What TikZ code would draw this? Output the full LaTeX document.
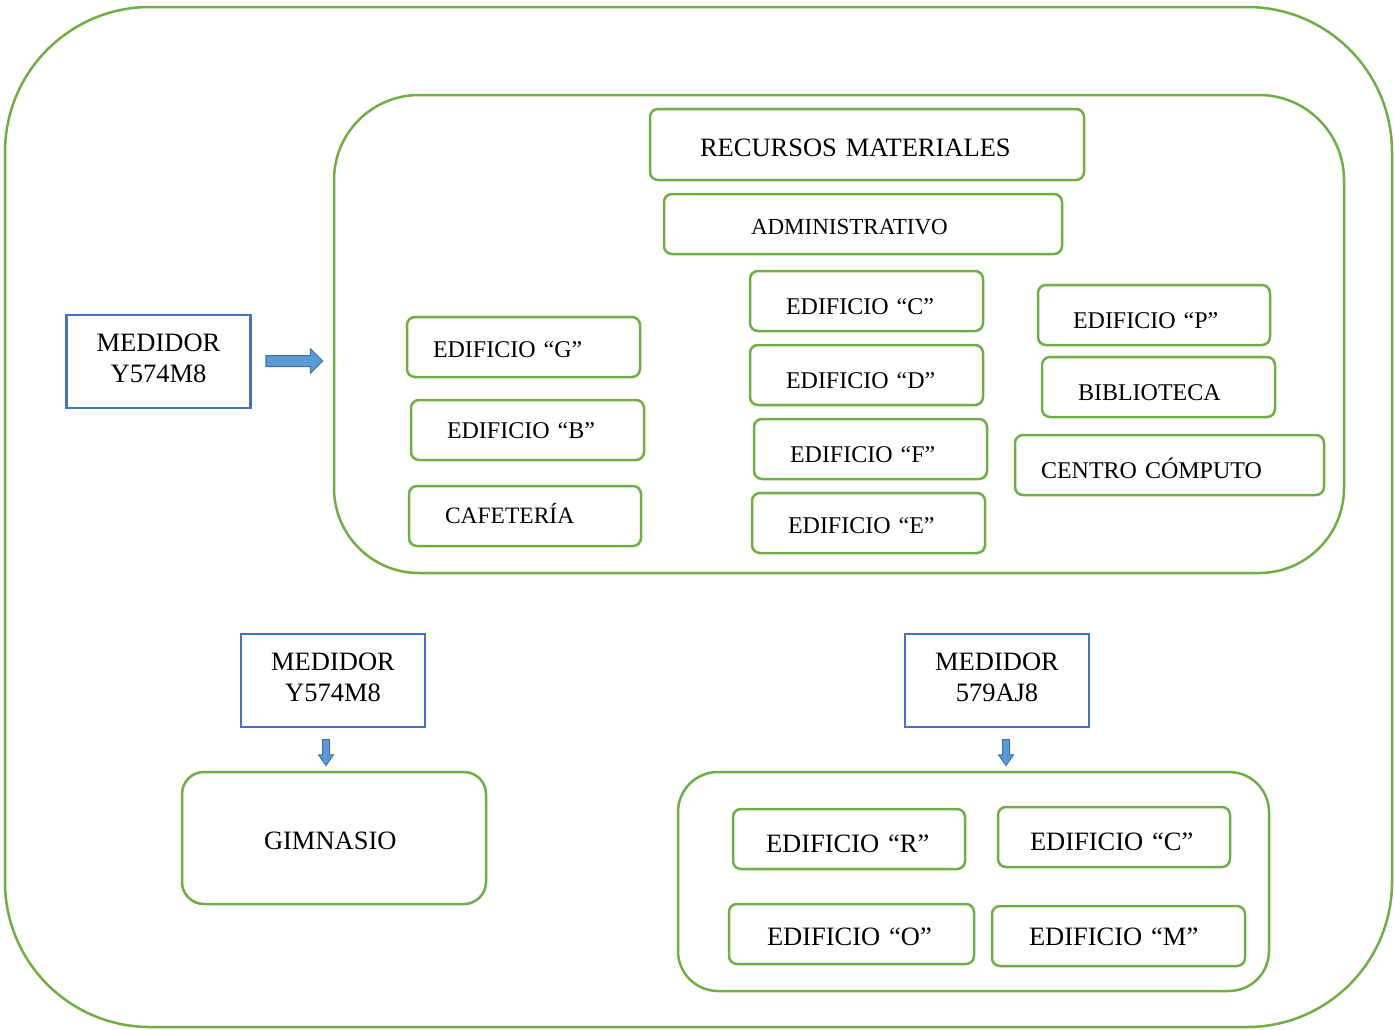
\documentclass[tikz,border=0pt]{standalone}
\usepackage{fontspec}
\setmainfont{Liberation Serif}
\usetikzlibrary{positioning,shapes.arrows}
\definecolor{verde}{HTML}{70AD47}
\definecolor{azul}{HTML}{4472C4}
\definecolor{flecha}{HTML}{5B9BD5}
\definecolor{flechaborde}{HTML}{41719C}
\tikzset{
    %caja de cada edificio (texto con margen izquierdo)
    edif/.style={
           rectangle,
           rounded corners=8pt,
           draw=verde, line width=2.5pt,
           minimum height=60pt,
           inner xsep=36pt,
           text width=161pt,
           align=left,
           text height=26pt,
           text depth=0pt,
           font=\fontsize{24}{28}\selectfont},
    grande/.style={font=\fontsize{26.5}{30}\selectfont},
    %caja de medidor
    medidor/.style={
           rectangle,
           draw=azul, line width=2.5pt,
           minimum width=184pt,
           minimum height=93pt,
           align=center,
           text height=48pt,
           text depth=7pt,
           font=\fontsize{26.5}{30.5}\selectfont},
    %contorno de grupo
    grupo/.style={
           rectangle,
           draw=verde, line width=2.5pt,
           inner sep=0pt},
    %flecha de bloque
    flechabloque/.style={
           single arrow,
           draw=flechaborde, fill=flecha, line width=1pt,
           inner xsep=0pt}
}

\begin{document}
\begin{tikzpicture}[x=1pt,y=-1pt]
\useasboundingbox (0,0) rectangle (1395,1029);

 %grupos
\node[grupo, rounded corners=145pt, minimum width=1387pt, minimum height=1020pt] (todo) at (698.5,517) {};
\node[grupo, rounded corners=85pt, minimum width=1010pt, minimum height=478pt] (campus) at (839,334) {};
\node[grupo, rounded corners=40pt, minimum width=591pt, minimum height=219pt] (sur) at (973.5,881.5) {};
\node[edif, grande, rounded corners=22pt, minimum height=132pt, inner xsep=82pt, text width=140pt,
      text height=22pt] (gim) at (334,838) {GIMNASIO};

 %medidores
\node[medidor] (med1) at (158.5,361.5) {MEDIDOR\\Y574M8};
\node[medidor] (med2) at (333,680.5) {MEDIDOR\\Y574M8};
\node[medidor] (med3) at (997,680.5) {MEDIDOR\\579AJ8};

 %flechas
\node[flechabloque, minimum height=57pt, inner ysep=5pt, single arrow head extend=7pt] (f1) at (291.5,361) {};
\node[flechabloque, rotate=-90, minimum height=26pt, inner ysep=3pt, single arrow head extend=4pt,
      single arrow tip angle=70] (f2) at (326,750) {};
\node[flechabloque, rotate=-90, minimum height=26pt, inner ysep=3pt, single arrow head extend=4pt,
      single arrow tip angle=70] (f3) at (1006,750) {};

 %edificios del campus
\node[edif, grande, minimum height=71pt, inner xsep=50pt, text width=334pt, text height=23pt] (rm) at (867,144.5) {RECURSOS MATERIALES};
\node[edif, inner xsep=87pt, text width=224pt, text height=21pt, font=\fontsize{23}{27}\selectfont] (adm) at (863,224) {ADMINISTRATIVO};
\node[edif] (ec) at (866.5,301) {EDIFICIO “C”};
\node[edif] (ed) at (866.5,375) {EDIFICIO “D”};
\node[edif] (ef) at (870.5,449) {EDIFICIO “F”};
\node[edif, text height=20pt] (ee) at (868.5,523) {EDIFICIO “E”};
\node[edif, inner xsep=35pt, text width=162pt] (ep) at (1154,315) {EDIFICIO “P”};
\node[edif] (bib) at (1158.5,387) {BIBLIOTECA};
\node[edif, inner xsep=26pt, text width=257pt] (cc) at (1169.5,465) {CENTRO CÓMPUTO};
\node[edif, inner xsep=26pt, text width=181pt, text height=21pt] (eg) at (523.5,347) {EDIFICIO “G”};
\node[edif, text height=16pt] (eb) at (527.5,430) {EDIFICIO “B”};
\node[edif, text width=160pt, text height=14pt, font=\fontsize{23.5}{27}\selectfont] (caf) at (525,516) {CAFETERÍA};

 %edificios del medidor 579AJ8
\node[edif, grande, inner xsep=33pt, text width=166pt] (er) at (849,839) {EDIFICIO “R”};
\node[edif, grande, inner xsep=32pt, text width=168pt] (ec2) at (1114,837) {EDIFICIO “C”};
\node[edif, grande, inner xsep=38pt, text width=169pt, text height=23pt] (eo) at (851.5,934) {EDIFICIO “O”};
\node[edif, grande, inner xsep=37pt, text width=179pt, text height=19pt] (em) at (1118.5,936) {EDIFICIO “M”};

\end{tikzpicture}
\end{document}
